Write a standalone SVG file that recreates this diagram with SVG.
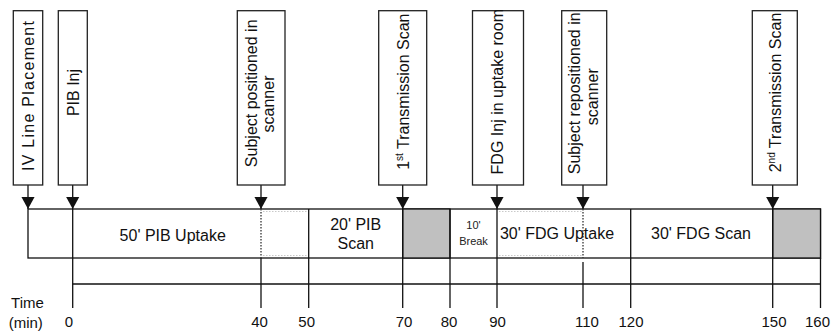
<svg xmlns="http://www.w3.org/2000/svg" width="831" height="332" viewBox="0 0 831 332">
<style>
.box{fill:#fff;stroke:#222;stroke-width:1.3}
.lbl{font-family:"Liberation Sans",Arial,sans-serif;font-size:16px;fill:#111;text-anchor:middle}
.ln{stroke:#111;stroke-width:1.3;fill:none}
.dot{stroke:#333;stroke-width:1.3;stroke-dasharray:1.5 1.5;fill:none}
.faint{stroke:#bbb;stroke-width:0.8;stroke-dasharray:1.5 1.5;fill:none}
.num{font-family:"Liberation Sans",Arial,sans-serif;font-size:15px;fill:#111;text-anchor:middle}
.seg{font-family:"Liberation Sans",Arial,sans-serif;font-size:16px;fill:#111;text-anchor:middle}
.sm{font-family:"Liberation Sans",Arial,sans-serif;font-size:11px;fill:#222;text-anchor:middle}
.gray{fill:#c0c0c0;stroke:#111;stroke-width:1.3}
</style>
<defs>
<marker id="ah" markerUnits="userSpaceOnUse" markerWidth="12" markerHeight="14" refX="11" refY="6" orient="auto" viewBox="0 0 11 12">
<path d="M0,0 L11,6 L0,12 Z" fill="#111"/>
</marker>
</defs>

<g id="timeline">
<rect x="28" y="209" width="792.5" height="49" fill="#fff" stroke="#111" stroke-width="1.3"/>
<rect class="gray" x="402.7" y="209" width="47.3" height="49"/>
<rect class="gray" x="772.7" y="209" width="47.8" height="49"/>
<line class="faint" x1="263" y1="211.5" x2="307" y2="211.5"/>
<line class="faint" x1="263" y1="255.5" x2="307" y2="255.5"/>
<line class="faint" x1="499" y1="211.5" x2="582" y2="211.5"/>
<line class="faint" x1="499" y1="255.5" x2="582" y2="255.5"/>
<line class="ln" x1="72.7" y1="209" x2="72.7" y2="308"/>
<line class="dot" x1="261" y1="209" x2="261" y2="258"/>
<line class="ln" x1="261" y1="258" x2="261" y2="308"/>
<line class="ln" x1="308.7" y1="209" x2="308.7" y2="308"/>
<line class="ln" x1="402.7" y1="209" x2="402.7" y2="308"/>
<line class="ln" x1="450" y1="209" x2="450" y2="308"/>
<line class="ln" x1="497" y1="209" x2="497" y2="308"/>
<line class="dot" x1="583" y1="209" x2="583" y2="258"/>
<line class="ln" x1="583" y1="262" x2="583" y2="308"/>
<line class="ln" x1="630.7" y1="209" x2="630.7" y2="308"/>
<line class="ln" x1="772.7" y1="209" x2="772.7" y2="308"/>
<line class="ln" x1="820.5" y1="258" x2="820.5" y2="308"/>
<line class="ln" x1="72.7" y1="284" x2="820.5" y2="284"/>
<text class="seg" x="172.7" y="240.5">50' PIB Uptake</text>
<text class="seg" x="355.7" y="230">20' PIB</text>
<text class="seg" x="355.7" y="249">Scan</text>
<text class="sm" x="473.5" y="229">10'</text>
<text class="sm" x="473.5" y="245">Break</text>
<text class="seg" x="557" y="238.5">30' FDG Uptake</text>
<text class="seg" x="701" y="238.5">30' FDG Scan</text>
<text class="num" x="27.5" y="308">Time</text>
<text class="num" x="25.8" y="327.5">(min)</text>
<text class="num" x="68.8" y="326.5">0</text>
<text class="num" x="259.5" y="326.5">40</text>
<text class="num" x="306.7" y="326.5">50</text>
<text class="num" x="404" y="326.5">70</text>
<text class="num" x="449" y="326.5">80</text>
<text class="num" x="497.5" y="326.5">90</text>
<text class="num" x="587" y="326.5">110</text>
<text class="num" x="631" y="326.5">120</text>
<text class="num" x="774" y="326.5">150</text>
<text class="num" x="817.5" y="326.5">160</text>
</g>

<g id="connectors">
<line class="ln" x1="28" y1="185" x2="28" y2="209" marker-end="url(#ah)"/>
<line class="ln" x1="72.7" y1="185" x2="72.7" y2="209" marker-end="url(#ah)"/>
<line class="ln" x1="261" y1="185" x2="261" y2="209" marker-end="url(#ah)"/>
<line class="ln" x1="402.7" y1="185" x2="402.7" y2="209" marker-end="url(#ah)"/>
<line class="ln" x1="497" y1="185" x2="497" y2="209" marker-end="url(#ah)"/>
<line class="ln" x1="583" y1="185" x2="583" y2="209" marker-end="url(#ah)"/>
<line class="ln" x1="772.7" y1="185" x2="772.7" y2="209" marker-end="url(#ah)"/>
</g>

<g id="iv-line">
<rect class="box" x="13.3" y="10.7" width="29.4" height="174.3"/>
<text class="lbl" transform="translate(33.8,96) rotate(-90)" textLength="150" lengthAdjust="spacing">IV Line Placement</text>
</g>
<g id="pib-inj">
<rect class="box" x="58.3" y="10.7" width="29" height="174.3"/>
<text class="lbl" transform="translate(78.5,92.5) rotate(-90)">PIB Inj</text>
</g>
<g id="subject-positioned">
<rect class="box" x="237.3" y="10.7" width="47.7" height="174.3"/>
<text class="lbl" transform="translate(257,93.3) rotate(-90)">Subject positioned in</text>
<text class="lbl" transform="translate(273.5,104) rotate(-90)">scanner</text>
</g>
<g id="transmission-1">
<rect class="box" x="378.7" y="10.7" width="48" height="174.3"/>
<text class="lbl" transform="translate(408.5,91.7) rotate(-90)">1<tspan font-size="10" dy="-6">st</tspan><tspan dy="6"> Transmission Scan</tspan></text>
</g>
<g id="fdg-inj">
<rect class="box" x="472.5" y="10.7" width="51" height="174.3"/>
<text class="lbl" transform="translate(503,91.7) rotate(-90)">FDG Inj in uptake room</text>
</g>
<g id="subject-repositioned">
<rect class="box" x="561.7" y="10.7" width="45" height="174.3"/>
<text class="lbl" transform="translate(580,93.3) rotate(-90)">Subject repositioned in</text>
<text class="lbl" transform="translate(598,96.7) rotate(-90)">scanner</text>
</g>
<g id="transmission-2">
<rect class="box" x="752.3" y="10.7" width="45" height="174.3"/>
<text class="lbl" transform="translate(780.5,92.5) rotate(-90)">2<tspan font-size="10" dy="-6">nd</tspan><tspan dy="6"> Transmission Scan</tspan></text>
</g>
</svg>
